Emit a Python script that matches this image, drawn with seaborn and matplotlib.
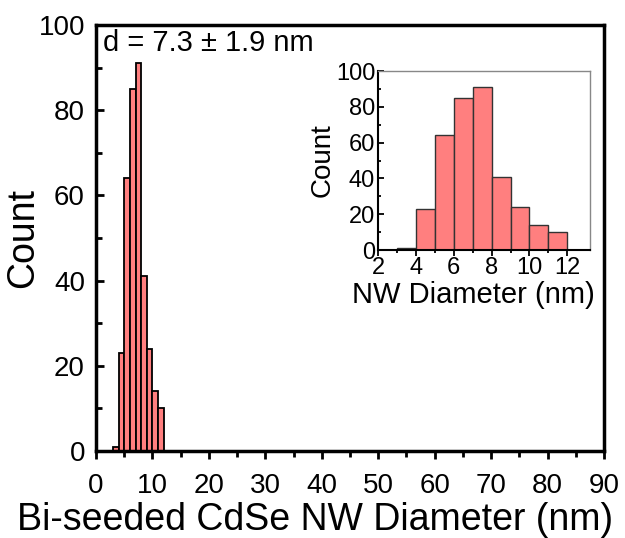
import numpy as np
import pandas as pd
import seaborn as sns
import matplotlib
matplotlib.use("Agg")
import matplotlib.pyplot as plt

# histogram counts (1 nm bins)
bin_left = [3, 4, 5, 6, 7, 8, 9, 10, 11]
counts = [1, 23, 64, 85, 91, 41, 24, 14, 10]
bin_edges = [3, 4, 5, 6, 7, 8, 9, 10, 11, 12]
annotation = "d = 7.3 \u00b1 1.9 nm"

df = pd.DataFrame({"diam": np.array(bin_left) + 0.5, "count": counts})

sns.set_theme(style="ticks")
plt.rcParams["font.family"] = ["Liberation Sans", "DejaVu Sans"]
plt.rcParams["text.color"] = "black"
plt.rcParams["axes.labelcolor"] = "black"
plt.rcParams["xtick.color"] = "black"
plt.rcParams["ytick.color"] = "black"
bar_color = "#ff7f7f"

fig = plt.figure(figsize=(6.25, 5.38), dpi=100)
ax = fig.add_axes([0.1536, 0.1617, 0.8128, 0.7918])

sns.histplot(data=df, x="diam", weights="count", bins=bin_edges, ax=ax,
             color=bar_color, alpha=1, edgecolor="black", linewidth=1.3)
ax.set_xlim(0, 90)
ax.set_ylim(0, 100)
ax.set_xticks(np.arange(0, 91, 10))
ax.set_xticks(np.arange(5, 90, 10), minor=True)
ax.set_yticks(np.arange(0, 101, 20))
ax.set_yticks(np.arange(10, 100, 20), minor=True)
ax.tick_params(axis="x", which="major", direction="out", length=6, width=2, labelsize=20, pad=10)
ax.tick_params(axis="x", which="minor", direction="out", length=4, width=2)
ax.tick_params(axis="y", which="major", direction="in", length=6, width=2, labelsize=20, pad=8)
ax.tick_params(axis="y", which="minor", direction="in", length=4, width=2)
for s in ax.spines.values():
    s.set_linewidth(2.5)
    s.set_color("black")
ax.set_xlabel("Bi-seeded CdSe NW Diameter (nm)", fontsize=27)
ax.set_ylabel("Count", fontsize=27)
ax.xaxis.set_label_coords(0.432, -0.12, transform=ax.transAxes)
ax.yaxis.set_label_coords(-0.108, 0.5, transform=ax.transAxes)
ax.text(0.013, 0.99, annotation, transform=ax.transAxes, ha="left", va="top", fontsize=21)

# inset
ins = fig.add_axes([0.6048, 0.5353, 0.3392, 0.3327])
sns.histplot(data=df, x="diam", weights="count", bins=bin_edges, ax=ins,
             color=bar_color, alpha=1, edgecolor="#333333", linewidth=1.0)
ins.set_xlim(2, 13.2)
ins.set_ylim(0, 100)
ins.set_xticks(np.arange(2, 13, 2))
ins.set_xticks(np.arange(3, 13, 2), minor=True)
ins.set_yticks(np.arange(0, 101, 20))
ins.set_yticks(np.arange(10, 100, 20), minor=True)
ins.tick_params(axis="x", which="major", direction="out", length=4, width=1.3, labelsize=17, pad=1)
ins.tick_params(axis="x", which="minor", direction="out", length=2.5, width=1.3)
ins.tick_params(axis="y", which="major", direction="in", length=4, width=1.3, labelsize=17, pad=2)
ins.tick_params(axis="y", which="minor", direction="in", length=2.5, width=1.3)
ins.spines["left"].set_linewidth(1.5)
ins.spines["bottom"].set_linewidth(1.5)
ins.spines["left"].set_color("black")
ins.spines["bottom"].set_color("black")
ins.spines["top"].set_color("#888888")
ins.spines["right"].set_color("#888888")
ins.spines["top"].set_linewidth(1.0)
ins.spines["right"].set_linewidth(1.0)
ins.set_xlabel("NW Diameter (nm)", fontsize=21)
ins.set_ylabel("Count", fontsize=20)
ins.xaxis.set_label_coords(0.45, -0.175, transform=ins.transAxes)
ins.yaxis.set_label_coords(-0.2, 0.5, transform=ins.transAxes)
ins.patch.set_alpha(0)

fig.savefig("out.png", dpi=100)
